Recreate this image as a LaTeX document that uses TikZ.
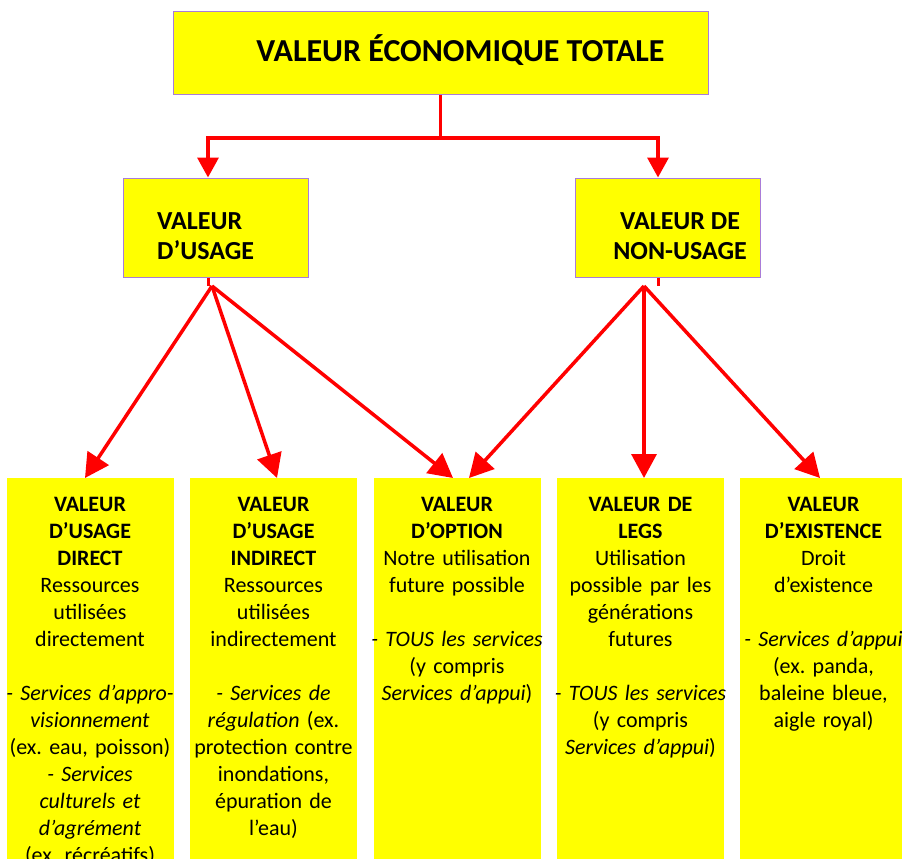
\documentclass[tikz,border=0pt]{standalone}
\usepackage{fontspec}
\setmainfont{Carlito}
\usetikzlibrary{arrows.meta}
\frenchspacing
\definecolor{jaune}{HTML}{FFFF00}
\definecolor{rouge}{HTML}{FF0000}
\definecolor{violet}{HTML}{A97CD8}
\tikzset{
	cadre/.style={fill=jaune, draw=violet, line width=1pt},
	colonne/.style={fill=jaune, minimum width=167pt, minimum height=420pt, anchor=north, inner sep=0pt},
	texte/.style={text width=200pt, align=center, anchor=north, inner sep=0pt, font=\fontsize{22}{27}\selectfont},
	fleche/.style={rouge, line width=3.5pt, -{Triangle[length=24pt, width=25pt]}},
	branche/.style={rouge, line width=3.5pt, -{Triangle[length=20pt, width=21pt]}},
}

\begin{document}
\begin{tikzpicture}[x=1pt, y=-1pt]
		\useasboundingbox(0, 0)rectangle(902, 859);
		\clip(0, 0)rectangle(902, 859);
		\coordinate(g)at(208, 138);
		\coordinate(d)at(658, 138);
		\coordinate(usagebas)at(212, 286);
		\coordinate(nonusagebas)at(644, 286);
		\node[cadre, minimum width=535pt, minimum height=82pt](total)at(440.5, 53){};
		\node[font=\bfseries\fontsize{32}{36}\selectfont](totaltitre)at(460.5, 50){VALEUR ÉCONOMIQUE TOTALE};
		\node[cadre, minimum width=185pt, minimum height=99pt](usage)at(215.5, 227.5){};
		\node[font=\bfseries\fontsize{26}{30}\selectfont, align=left, anchor=west, inner sep=0pt](usagetitre)at(157, 236){VALEUR\\D’USAGE};
		\node[cadre, minimum width=185pt, minimum height=99pt](nonusage)at(668, 227.5){};
		\node[font=\bfseries\fontsize{26}{30}\selectfont, align=center, inner sep=0pt](nonusagetitre)at(680, 236){VALEUR DE\\NON-USAGE};
		\foreach \nom/\x in {direct/90, indirect/273.5, option/457, legs/640.5, existence/823.5}
			\node[colonne](\nom)at(\x, 478){};
		\node[texte](directtexte)at([yshift=-19pt]direct.north){\textbf{VALEUR}\\\textbf{D’USAGE}\\\textbf{DIRECT}\\Ressources\\utilisées\\directement\\[27pt]\textit{- Services d’appro-}\\\textit{visionnement}\\(ex. eau, poisson)\\\textit{- Services}\\\textit{culturels et}\\\textit{d’agrément}\\(ex. récréatifs)};
		\node[texte](indirecttexte)at([yshift=-19pt]indirect.north){\textbf{VALEUR}\\\textbf{D’USAGE}\\\textbf{INDIRECT}\\Ressources\\utilisées\\indirectement\\[27pt]\textit{- Services de}\\\textit{régulation} (ex.\\protection contre\\inondations,\\épuration de\\l’eau)};
		\node[texte](optiontexte)at([yshift=-19pt]option.north){\textbf{VALEUR}\\\textbf{D’OPTION}\\Notre utilisation\\future possible\\[27pt]\textit{- TOUS les services}\\(y compris\\\textit{Services d’appui})};
		\node[texte](legstexte)at([yshift=-19pt]legs.north){\textbf{VALEUR DE}\\\textbf{LEGS}\\Utilisation\\possible par les\\générations\\futures\\[27pt]\textit{- TOUS les services}\\(y compris\\\textit{Services d’appui})};
		\node[texte](existencetexte)at([yshift=-19pt]existence.north){\textbf{VALEUR}\\\textbf{D’EXISTENCE}\\Droit\\d’existence\\[27pt]\textit{- Services d’appui}\\(ex. panda,\\baleine bleue,\\aigle royal)};
		\draw[branche](total.south)--(total.south |- g)-|(usage.north -| g);
		\draw[branche](total.south |- g)-|(nonusage.north -| d);
		\draw[rouge, line width=3pt](usage.south -| g)--++(0, 8);
		\draw[rouge, line width=3pt](nonusage.south -| d)--++(0, 8);
		\draw[fleche](usagebas)--([xshift=-5pt]direct.north);
		\draw[fleche](usagebas)--([xshift=3.5pt]indirect.north);
		\draw[fleche](usagebas)--([xshift=-4pt]option.north);
		\draw[fleche](nonusagebas)--([xshift=12pt]option.north);
		\draw[fleche](nonusagebas)--([xshift=3.5pt]legs.north);
		\draw[fleche](nonusagebas)--([xshift=-3.5pt]existence.north);
	\end{tikzpicture}
\end{document}
